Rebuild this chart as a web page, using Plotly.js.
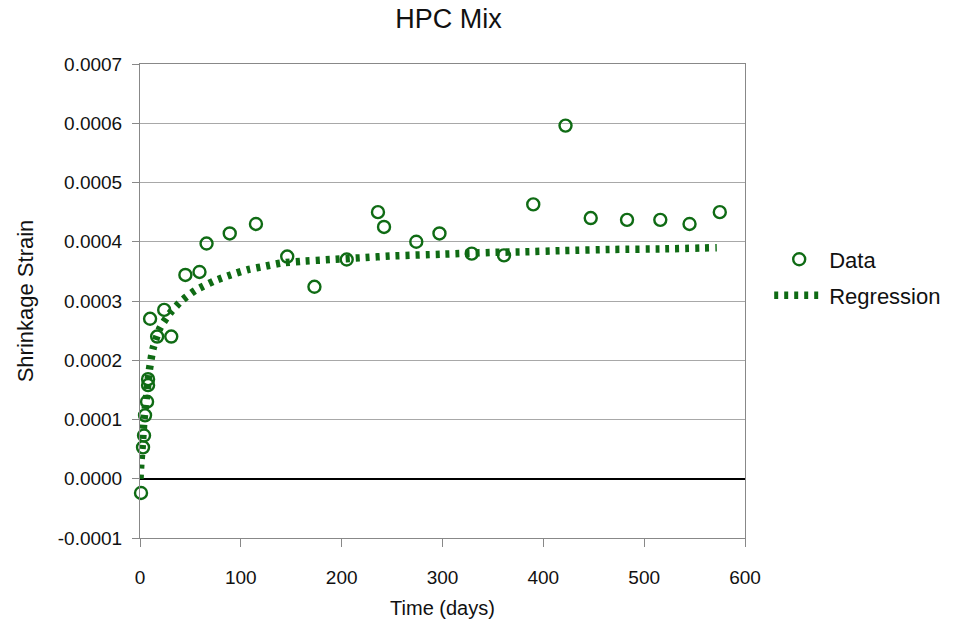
<!DOCTYPE html>
<html>
<head>
<meta charset="utf-8">
<script src="https://cdn.plot.ly/plotly-3.0.1.min.js"></script>
<style>html,body{margin:0;padding:0;background:#fff;}#chart{width:961px;height:632px;}</style>
</head>
<body>
<div id="chart"></div>
<script>
// Measured data (days, strain)
const dataDays = [1, 3, 4, 5, 7, 8, 8, 10, 17, 24, 31, 45, 59, 66, 89, 115, 146, 173, 205, 236, 242, 274, 297, 329, 361, 390, 422, 447, 483, 516, 545, 575];
const dataStrain = [-0.000024, 0.000053, 0.000073, 0.000107, 0.00013, 0.000158, 0.000168, 0.00027, 0.00024, 0.000285, 0.00024, 0.000344, 0.000349, 0.000397, 0.000414, 0.00043, 0.000375, 0.000324, 0.00037, 0.00045, 0.000425, 0.0004, 0.000414, 0.00038, 0.000377, 0.000463, 0.000596, 0.00044, 0.000437, 0.000437, 0.00043, 0.00045];

// Regression curve
const regDays = [0, 1, 2, 4, 6, 9, 13, 20, 30, 41, 55, 74, 90, 107, 125, 140, 160, 189, 220, 250, 300, 350, 380, 420, 470, 520, 572];
const regStrain = [0.0000, 0.00003, 0.00005, 0.0001, 0.00013, 0.00018, 0.00022, 0.000255, 0.00028, 0.0003, 0.000318, 0.000334, 0.000344, 0.000353, 0.000359, 0.000364, 0.000367, 0.00037, 0.000373, 0.000376, 0.000379, 0.000382, 0.000383, 0.000385, 0.000387, 0.000388, 0.00039];

// Y tick values and labels
const yTickVals = [-0.0001, 0, 0.0001, 0.0002, 0.0003, 0.0004, 0.0005, 0.0006, 0.0007];
const yTickText = ['-0.0001', '0.0000', '0.0001', '0.0002', '0.0003', '0.0004', '0.0005', '0.0006', '0.0007'];

const green = '#0f6b14';

const traces = [
  {
    x: dataDays, y: dataStrain, name: 'Data', type: 'scatter', mode: 'markers',
    marker: {symbol: 'circle-open', size: 12, color: green, line: {width: 2.4, color: green}},
    cliponaxis: false, legend: 'legend'
  },
  {
    x: regDays, y: regStrain, name: 'Regression', type: 'scatter', mode: 'lines',
    line: {color: green, width: 7.5, dash: '4px,6px', shape: 'spline', smoothing: 0.6},
    legend: 'legend2'
  }
];

const legendCommon = {xanchor: 'left', yanchor: 'top', font: {size: 22, color: '#111'}, bgcolor: 'rgba(0,0,0,0)', itemwidth: 50};

const layout = {
  width: 961, height: 632,
  margin: {l: 140, r: 216, t: 64, b: 94},
  paper_bgcolor: '#fff', plot_bgcolor: '#fff',
  font: {family: 'Liberation Sans, Arial, sans-serif', color: '#111', size: 19},
  title: {text: 'HPC Mix', x: 0.51, xref: 'paper', xanchor: 'center', y: 0.971, yref: 'container', yanchor: 'middle', font: {size: 27, color: '#111'}},
  showlegend: true,
  legend: Object.assign({x: 1.04, y: 0.632}, legendCommon),
  legend2: Object.assign({x: 1.04, y: 0.556}, legendCommon),
  xaxis: {
    range: [0, 600], dtick: 100, tick0: 0,
    showgrid: false, zeroline: false,
    showline: true, mirror: true, linecolor: '#888', linewidth: 1,
    ticks: 'outside', ticklen: 8, tickcolor: '#888',
    ticklabelstandoff: 14,
    tickfont: {size: 19},
    title: {text: 'Time (days)', font: {size: 20}, standoff: 14}
  },
  yaxis: {
    range: [-0.0001, 0.0007],
    tickmode: 'array', tickvals: yTickVals, ticktext: yTickText,
    showgrid: true, gridcolor: '#a8a8a8', gridwidth: 1,
    zeroline: true, zerolinecolor: '#000', zerolinewidth: 2,
    showline: true, mirror: true, linecolor: '#888', linewidth: 1,
    ticks: 'outside', ticklen: 7, tickcolor: '#888',
    ticklabelstandoff: 6,
    tickfont: {size: 19},
    title: {text: 'Shrinkage Strain', font: {size: 22}, standoff: 18}
  }
};

Plotly.newPlot('chart', traces, layout, {displayModeBar: false, staticPlot: true});
</script>
</body>
</html>
